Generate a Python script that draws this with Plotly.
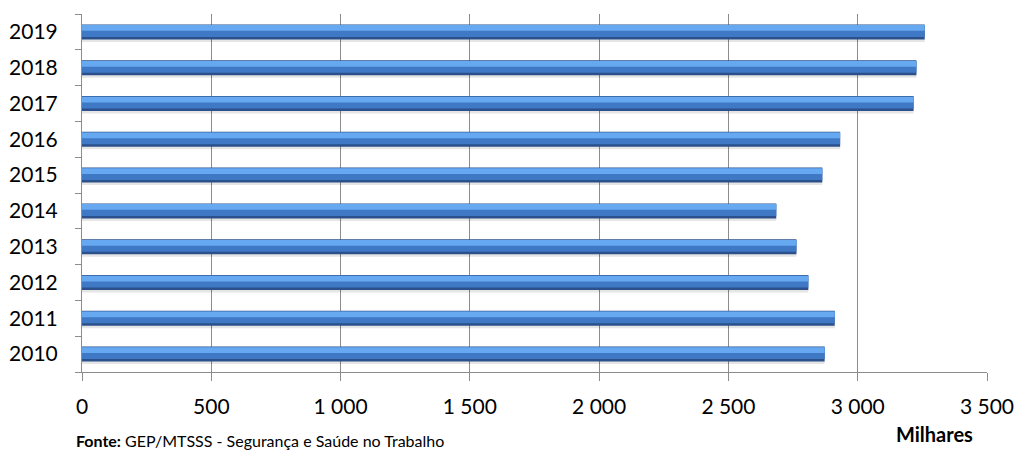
import plotly.graph_objects as go

# Annual values, in thousands
years = ["2010", "2011", "2012", "2013", "2014", "2015", "2016", "2017", "2018", "2019"]
values = [2872, 2911, 2809, 2763, 2685, 2863, 2932, 3216, 3227, 3259]

x_ticks = [0, 500, 1000, 1500, 2000, 2500, 3000, 3500]
x_tick_labels = ["0", "500", "1 000", "1 500", "2 000", "2 500", "3 000", "3 500"]

FONT = "Lato"
GRID = "#8c8c8c"

fig = go.Figure()

# Stacked layers give each bar a bevelled, cylinder-like look
layers = [
    # (colour, width, offset)
    ("rgba(0,0,0,0.10)", 0.44, -0.28),   # soft shadow underneath
    ("#2b508c", 0.42, -0.21),            # dark body / edges
    ("#3f78c4", 0.33, -0.14),            # main face
    ("#66a9f0", 0.16, 0.03),             # highlight
]
for colour, w, off in layers:
    fig.add_trace(go.Bar(
        x=values, y=years, orientation="h",
        marker=dict(color=colour, line=dict(width=0)),
        width=w, offset=off,
        hoverinfo="x+y", showlegend=False,
    ))

fig.update_layout(
    width=1015, height=450,
    margin=dict(l=82, r=28, t=14, b=78, autoexpand=False),
    paper_bgcolor="white", plot_bgcolor="white",
    barmode="overlay",
    font=dict(family=FONT, size=21, color="#000000"),
    xaxis=dict(
        range=[0, 3500], tickvals=x_ticks, ticktext=x_tick_labels,
        showgrid=True, gridcolor=GRID, gridwidth=1,
        showline=True, linecolor=GRID, linewidth=1,
        ticks="outside", ticklen=8, tickcolor=GRID,
        ticklabelstandoff=8,
        zeroline=False, fixedrange=True, automargin=False,
        tickfont=dict(family=FONT, size=21),
    ),
    yaxis=dict(
        type="category", categoryorder="array", categoryarray=years,
        range=[-0.5, 9.5],
        showgrid=False, showline=True, linecolor=GRID, linewidth=1,
        ticks="outside", ticklen=6, tickcolor=GRID, tickson="boundaries",
        ticklabelstandoff=19, automargin=False,
        tickfont=dict(family=FONT, size=21),
        fixedrange=True,
    ),
    annotations=[
        dict(
            text="<b>Fonte:</b> GEP/MTSSS - Segurança e Saúde no Trabalho",
            xref="paper", yref="paper", x=-0.009, y=-(429 - 372) / 358,
            xanchor="left", yanchor="top", showarrow=False,
            font=dict(family=FONT, size=16, color="#000000"),
        ),
        dict(
            text="<b>Milhares</b>",
            xref="paper", yref="paper", x=0.9425, y=-(420 - 372) / 358,
            xanchor="center", yanchor="top", showarrow=False,
            font=dict(family=FONT, size=20, color="#000000"),
        ),
    ],
)

fig.write_html("out.html")
